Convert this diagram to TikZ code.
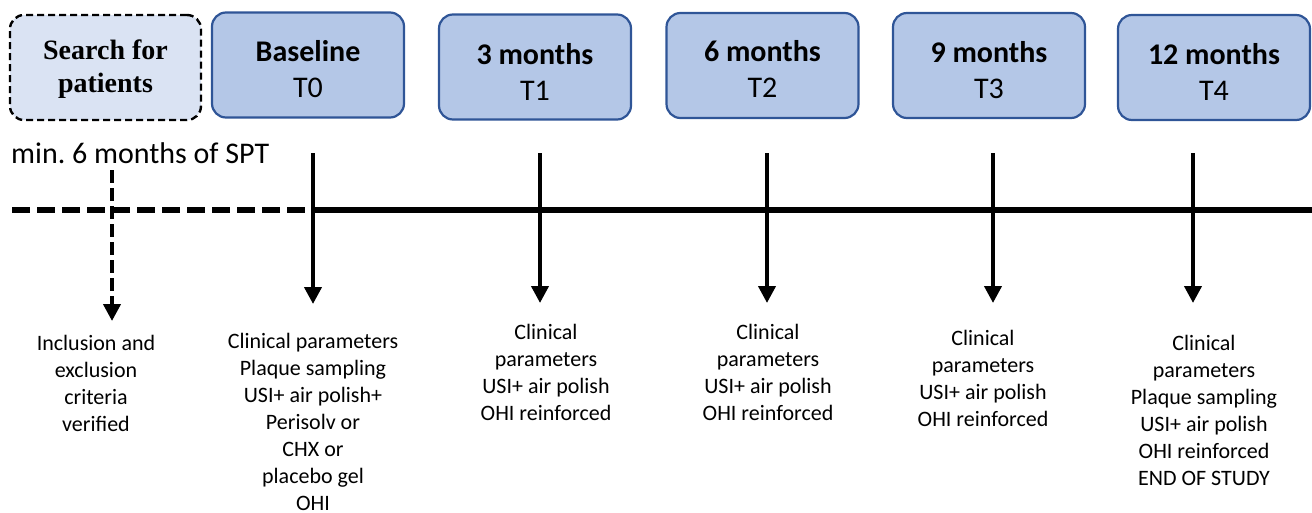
\documentclass[tikz,border=0pt]{standalone}
\usepackage{fontspec}
\setmainfont{Carlito}
\newfontfamily\timesf{Liberation Serif}
\usetikzlibrary{arrows.meta}
\definecolor{boxfill}{HTML}{B4C7E7}
\definecolor{boxline}{HTML}{2F5597}
\definecolor{searchfill}{HTML}{DAE3F3}
\begin{document}
\begin{tikzpicture}[x=1pt,y=-1pt,
  phase/.style={draw=boxline, line width=2.2pt, fill=boxfill, rounded corners=14pt,
    minimum width=192pt, minimum height=105pt, inner sep=0pt},
  phasetext/.style={align=center, inner sep=0pt, font=\fontsize{30}{36}\selectfont},
  search/.style={draw=black, dash pattern=on 7pt off 4pt, line width=2.4pt, fill=searchfill, rounded corners=14pt,
    minimum width=191pt, minimum height=105pt, inner sep=0pt},
  searchtext/.style={align=center, inner sep=0pt, font=\timesf\bfseries\fontsize{28}{33}\selectfont},
  info/.style={anchor=north, align=center, inner sep=0pt, font=\fontsize{22}{27}\selectfont},
  tick/.style={line width=4pt, -{Triangle[width=17pt,length=17pt]}},
  dtick/.style={line width=4pt, dash pattern=on 13pt off 5pt, -{Triangle[width=17pt,length=17pt]}},
  timeline/.style={line width=6pt}
]
\useasboundingbox (0,0) rectangle (1312,512);

% top boxes
\node[search] (search) at (105.5,67.5) {};
\node[searchtext] (searcht) at (105.5,69.5) {Search for\\patients};
\node[phase] (b0) at (308,65) {};
\node[phasetext] (t0) at (308,69.5) {\textbf{Baseline}\\T0};
\node[phase] (b1) at (535,67) {};
\node[phasetext] (t1) at (535,71.5) {\textbf{3 months}\\T1};
\node[phase] (b2) at (762.5,65.5) {};
\node[phasetext] (t2) at (762.5,69) {\textbf{6 months}\\T2};
\node[phase] (b3) at (989,65.5) {};
\node[phasetext] (t3) at (989,70) {\textbf{9 months}\\T3};
\node[phase] (b4) at (1214,67.5) {};
\node[phasetext] (t4) at (1214,71.5) {\textbf{12 months}\\T4};

\node[anchor=west, inner sep=0pt, font=\fontsize{30}{32}\selectfont] (spt) at (11,153) {min.\ 6 months of SPT};

% timeline
\coordinate (tstart) at (12,210);
\coordinate (tbase) at (313,210);
\coordinate (tend) at (1312,210);
\draw[timeline, dash pattern=on 18pt off 7pt] (tstart) -- (tbase);
\draw[timeline] (tbase) -- (tend);

% arrow coordinates
\coordinate (s0) at (112,170); \coordinate (e0) at (112,321);
\coordinate (s1) at (313,153); \coordinate (e1) at (313,304);
\coordinate (s2) at (540,153); \coordinate (e2) at (540,303);
\coordinate (s3) at (767,153); \coordinate (e3) at (767,303);
\coordinate (s4) at (993,153); \coordinate (e4) at (993,303);
\coordinate (s5) at (1193,153); \coordinate (e5) at (1193,303);

\draw[dtick] (s0) -- (e0);
\draw[tick] (s1) -- (e1);
\draw[tick] (s2) -- (e2);
\draw[tick] (s3) -- (e3);
\draw[tick] (s4) -- (e4);
\draw[tick] (s5) -- (e5);

% info texts
\node[info] (i0) at (96,335) {Inclusion and\\exclusion\\criteria\\verified};
\node[info] (i1) at (313,333) {Clinical parameters\\Plaque sampling\\USI+ air polish+\\Perisolv or\\CHX or\\placebo gel\\OHI};
\node[info] (i2) at (546,324) {Clinical\\parameters\\USI+ air polish\\OHI reinforced};
\node[info] (i3) at (768,324) {Clinical\\parameters\\USI+ air polish\\OHI reinforced};
\node[info] (i4) at (983,330) {Clinical\\parameters\\USI+ air polish\\OHI reinforced};
\node[info] (i5) at (1204,335) {Clinical\\parameters\\Plaque sampling\\USI+ air polish\\OHI reinforced\\END OF STUDY};
\end{tikzpicture}
\end{document}
